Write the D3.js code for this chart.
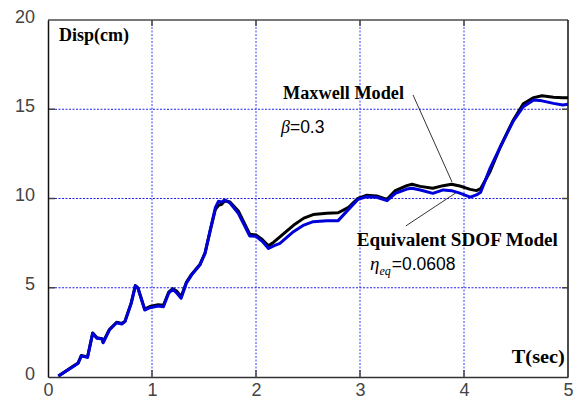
<!DOCTYPE html>
<html><head><meta charset="utf-8">
<script src="https://cdn.jsdelivr.net/npm/d3@7"></script>
<style>
html,body{margin:0;padding:0;background:#fff;}
svg{display:block;}
.tick text{font-family:"Liberation Sans Narrow","Arial Narrow","Liberation Sans",Arial,sans-serif;font-size:18px;fill:#444;}
.lbl{font-family:"Liberation Serif","DejaVu Serif",serif;font-weight:bold;font-size:18px;fill:#000;}
.num{font-family:"Liberation Sans",Arial,sans-serif;font-size:17.5px;fill:#000;}
.grk{font-family:"Liberation Serif","DejaVu Serif",serif;font-style:italic;fill:#000;}
</style></head>
<body>
<svg id="chart" width="579" height="399"></svg>
<script>
// ---- data ----
const time = [0.10,0.24,0.29,0.32,0.38,0.43,0.47,0.52,0.53,0.59,0.66,0.71,0.74,0.80,0.84,0.865,0.93,0.98,1.06,1.11,1.16,1.20,1.24,1.28,1.33,1.38,1.46,1.51,1.56,1.61,1.64,1.67,1.70,1.75,1.83,1.94,2.00,2.06,2.12,2.17,2.23,2.36,2.46,2.55,2.68,2.79,2.89,2.98,3.06,3.16,3.26,3.34,3.45,3.50,3.58,3.70,3.80,3.88,3.96,4.06,4.12,4.16,4.25,4.35,4.47,4.57,4.67,4.75,4.86,4.95,5.00];
const maxwellDisp = [0.05,0.60,0.79,1.20,1.12,2.47,2.20,2.15,1.95,2.66,3.07,3.00,3.13,4.15,5.12,4.99,3.80,3.95,4.05,4.02,4.75,4.95,4.80,4.50,5.30,5.75,6.30,6.95,8.20,9.40,9.62,9.68,9.88,9.80,9.30,8.00,7.95,7.70,7.35,7.55,7.85,8.50,8.90,9.10,9.18,9.20,9.50,10.01,10.18,10.14,9.95,10.44,10.72,10.80,10.68,10.57,10.72,10.80,10.70,10.51,10.44,10.55,11.50,12.90,14.35,15.30,15.65,15.76,15.67,15.65,15.65];
const equivDisp = [0.05,0.58,0.77,1.18,1.10,2.45,2.17,2.13,1.92,2.63,3.04,2.97,3.10,4.13,5.11,4.97,3.75,3.88,3.98,3.94,4.69,4.91,4.69,4.41,5.25,5.71,6.27,6.93,8.24,9.50,9.85,9.80,9.92,9.75,9.17,7.90,7.88,7.60,7.20,7.35,7.49,8.14,8.51,8.70,8.76,8.76,9.39,9.95,10.10,10.07,9.88,10.29,10.53,10.57,10.48,10.29,10.48,10.44,10.30,10.08,10.20,10.35,11.69,12.90,14.30,15.14,15.52,15.47,15.33,15.24,15.28];
const xTicks = [0,1,2,3,4,5];
const yTicks = [0,5,10,15,20];
const xGrid = [1,2,3,4];
const yGrid = [5,10,15];
// annotation anchors (data units)
const maxwellLeader = [[3.51,15.8],[3.885,10.92]];
const equivLeader = [[3.44,8.46],[3.92,10.31]];

// ---- layout ----
const svg = d3.select("#chart");
const x = d3.scaleLinear().domain([0,5]).range([48,568]);
const y = d3.scaleLinear().domain([0,20]).range([377,20]);

// grid
const g = svg.append("g");
g.selectAll(".vg").data(xGrid).join("line")
  .attr("x1",d=>x(d)).attr("x2",d=>x(d)).attr("y1",y(20)).attr("y2",y(0))
  .attr("stroke","#3c3cff").attr("stroke-width",1).attr("stroke-dasharray","2,1.5");
g.selectAll(".hg").data(yGrid).join("line")
  .attr("x1",x(0)).attr("x2",x(5)).attr("y1",d=>y(d)).attr("y2",d=>y(d))
  .attr("stroke","#2020ee").attr("stroke-width",1).attr("stroke-dasharray","2,1.5");

// frame
svg.append("line").attr("x1",x(0)).attr("x2",x(5)).attr("y1",y(20)).attr("y2",y(20)).attr("stroke","#777").attr("stroke-width",2);
svg.append("line").attr("x1",x(5)).attr("x2",x(5)).attr("y1",y(20)).attr("y2",y(0)).attr("stroke","#111").attr("stroke-width",1.5);

// inner ticks
const tk = svg.append("g").attr("stroke","#444").attr("stroke-width",1.5);
xGrid.forEach(d=>{
  tk.append("line").attr("x1",x(d)).attr("x2",x(d)).attr("y1",y(20)).attr("y2",y(20)+6);
  tk.append("line").attr("x1",x(d)).attr("x2",x(d)).attr("y1",y(0)).attr("y2",y(0)-7);
});
yGrid.forEach(d=>{
  tk.append("line").attr("x1",x(0)).attr("x2",x(0)+7).attr("y1",y(d)).attr("y2",y(d));
  tk.append("line").attr("x1",x(5)).attr("x2",x(5)-6).attr("y1",y(d)).attr("y2",y(d));
});

// axes
const ax = svg.append("g").attr("transform",`translate(0,${y(0)})`)
  .call(d3.axisBottom(x).tickValues(xTicks).tickSize(0).tickPadding(6).tickFormat(d3.format("d")));
ax.select(".domain").attr("stroke","#333").attr("stroke-width",1.5);
const ay = svg.append("g").attr("transform",`translate(${x(0)},0)`)
  .call(d3.axisLeft(y).tickValues(yTicks).tickSize(0).tickPadding(13).tickFormat(d3.format("d")));
ay.select(".domain").attr("stroke","#111").attr("stroke-width",1.5);
ay.selectAll(".tick text").attr("dy","0.12em");

// series
const clip = svg.append("clipPath").attr("id","clp").append("rect")
  .attr("x",x(0)).attr("y",y(20)).attr("width",x(5)-x(0)).attr("height",y(0)-y(20));
const line = d3.line().x(d=>x(d[0])).y(d=>y(d[1]));
svg.append("path").datum(time.map((t,i)=>[t,maxwellDisp[i]]))
  .attr("d",line).attr("fill","none").attr("stroke","#000").attr("stroke-width",3).attr("stroke-linejoin","round").attr("clip-path","url(#clp)");
svg.append("path").datum(time.map((t,i)=>[t,equivDisp[i]]))
  .attr("d",line).attr("fill","none").attr("stroke","#0000d8").attr("stroke-width",3).attr("stroke-linejoin","round").attr("clip-path","url(#clp)");

// leaders
[maxwellLeader,equivLeader].forEach(p=>{
  svg.append("line").attr("x1",x(p[0][0])).attr("y1",y(p[0][1])).attr("x2",x(p[1][0])).attr("y2",y(p[1][1]))
    .attr("stroke","#000").attr("stroke-width",0.8);
});

// labels
function lbl(t,v,txt,len){
  svg.append("text").attr("class","lbl").attr("x",x(t)).attr("y",y(v))
    .attr("textLength",len).attr("lengthAdjust","spacingAndGlyphs").text(txt);
}
lbl(0.106,18.82,"Disp(cm)",70);
lbl(4.46,0.78,"T(sec)",53);
lbl(2.26,15.57,"Maxwell Model",121);
lbl(2.97,7.34,"Equivalent SDOF Model",201);
const b = svg.append("text").attr("x",x(2.24)).attr("y",y(13.67));
b.append("tspan").attr("class","grk").attr("font-size","18px").text("β");
b.append("tspan").attr("class","num").text("=0.3");
const e = svg.append("text").attr("x",x(3.096)).attr("y",y(5.99));
e.append("tspan").attr("class","grk").attr("font-size","19px").text("η");
e.append("tspan").attr("class","grk").attr("font-size","12px").attr("dy","5").text("eq");
e.append("tspan").attr("class","num").attr("dy","-5").attr("dx","1").text("=0.0608");
</script>
</body></html>
